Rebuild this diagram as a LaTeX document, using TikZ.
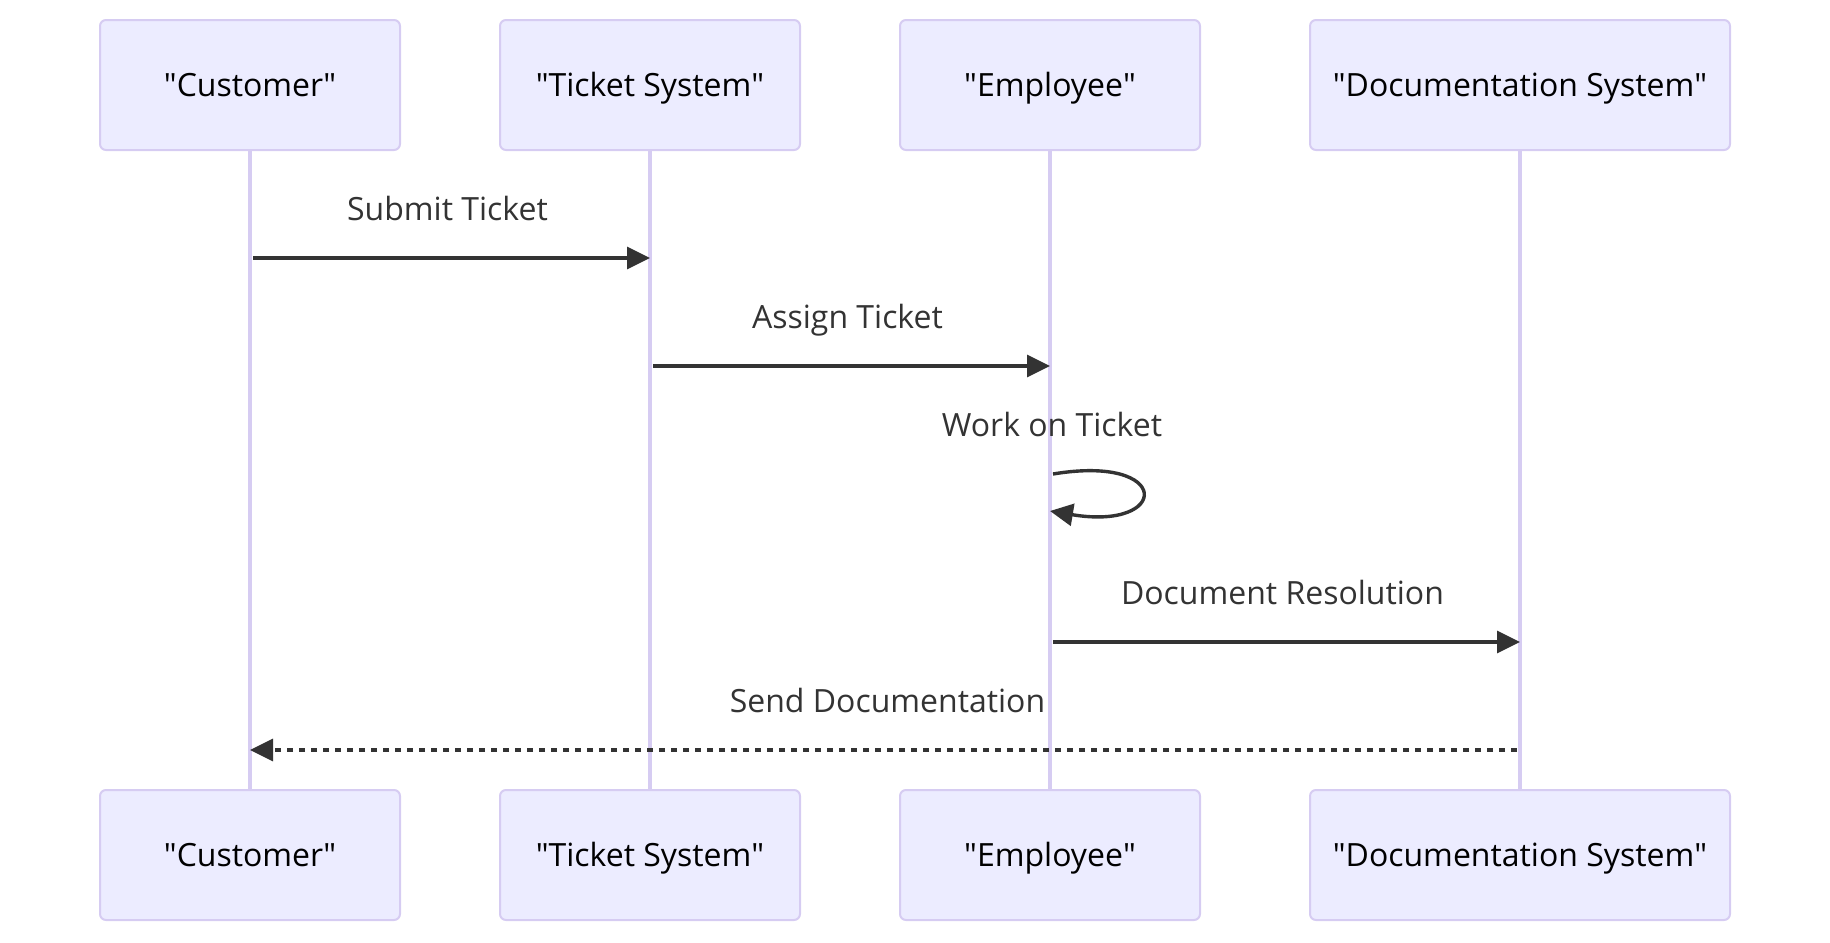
\documentclass[tikz,border=0pt]{standalone}
\usepackage{fontspec}
\setmainfont{Open Sans}
\usepackage{tikz}
\usetikzlibrary{positioning,arrows.meta}
\definecolor{actorfill}{HTML}{ECECFF}
\definecolor{actorline}{HTML}{D6CCF2}
\definecolor{msgline}{HTML}{333333}
\newcommand{\dq}{\XeTeXglyph\XeTeXcharglyph"22\relax}

\begin{document}
\begin{tikzpicture}[x=0.5pt, y=-0.5pt, node distance=49pt, actor/.style={rectangle, rounded corners=3pt, draw=actorline, line width=1pt, fill=actorfill, minimum width=150pt, minimum height=65pt, inner sep=0pt, text height=11pt, text depth=0pt, font=\fontsize{16pt}{19pt}\selectfont}, lifeline/.style={draw=actorline, line width=1.6pt}, msg/.style={draw=msgline, line width=1.7pt, -{Triangle[length=11.5pt, width=11pt]}}, reply/.style={msg, dash pattern=on 3pt off 3pt}, msg label/.style={anchor=base, text=msgline, yshift=19pt, font=\fontsize{16pt}{19pt}\selectfont}]

			\useasboundingbox (0,0) rectangle (1830,942);

			% actors on top
			\node[actor] (cust) at (250,85) {\dq Customer\dq};
			\node[actor] (tick) [right=of cust] {\dq Ticket System\dq};
			\node[actor] (empl) [right=of tick] {\dq Employee\dq};
			\node[actor, minimum width=210pt] (docs) [right=54pt of empl] {\dq Documentation System\dq};

			% actors at the bottom
			\node[actor] (cust2) [below=319pt of cust] {\dq Customer\dq};
			\node[actor] (tick2) [below=319pt of tick] {\dq Ticket System\dq};
			\node[actor] (empl2) [below=319pt of empl] {\dq Employee\dq};
			\node[actor, minimum width=210pt] (docs2) [below=319pt of docs] {\dq Documentation System\dq};

			% lifelines
			\draw[lifeline] (cust) -- (cust2);
			\draw[lifeline] (tick) -- (tick2);
			\draw[lifeline] (empl) -- (empl2);
			\draw[lifeline] (docs) -- (docs2);

			% message rows
			\coordinate (r1) at (0,258);
			\coordinate (r2) at (0,366);
			\coordinate (r3) at (0,474);
			\coordinate (r3b) at (0,511);
			\coordinate (r4) at (0,642);
			\coordinate (r5) at (0,750);

			% ticket handling
			\draw[msg] ([xshift=1.5pt]cust |- r1) -- node[msg label, xshift=-2pt] (l1) {Submit Ticket} (tick |- r1);
			\draw[msg] ([xshift=1.5pt]tick |- r2) -- node[msg label, xshift=-2pt] (l2) {Assign Ticket} (empl |- r2);
			\node[msg label, xshift=1pt] (l3) at (empl |- r3) {Work on Ticket};
			\draw[msg] ([xshift=1.5pt]empl |- r3) .. controls +(120,-20) and +(120,20) .. (empl |- r3b);

			% documentation
			\draw[msg] ([xshift=1.5pt]empl |- r4) -- node[msg label, xshift=-2pt] (l4) {Document Resolution} (docs |- r4);
			\draw[reply] ([xshift=-1.5pt]docs |- r5) -- node[msg label, xshift=2pt] (l5) {Send Documentation} (cust |- r5);

		\end{tikzpicture}
\end{document}
